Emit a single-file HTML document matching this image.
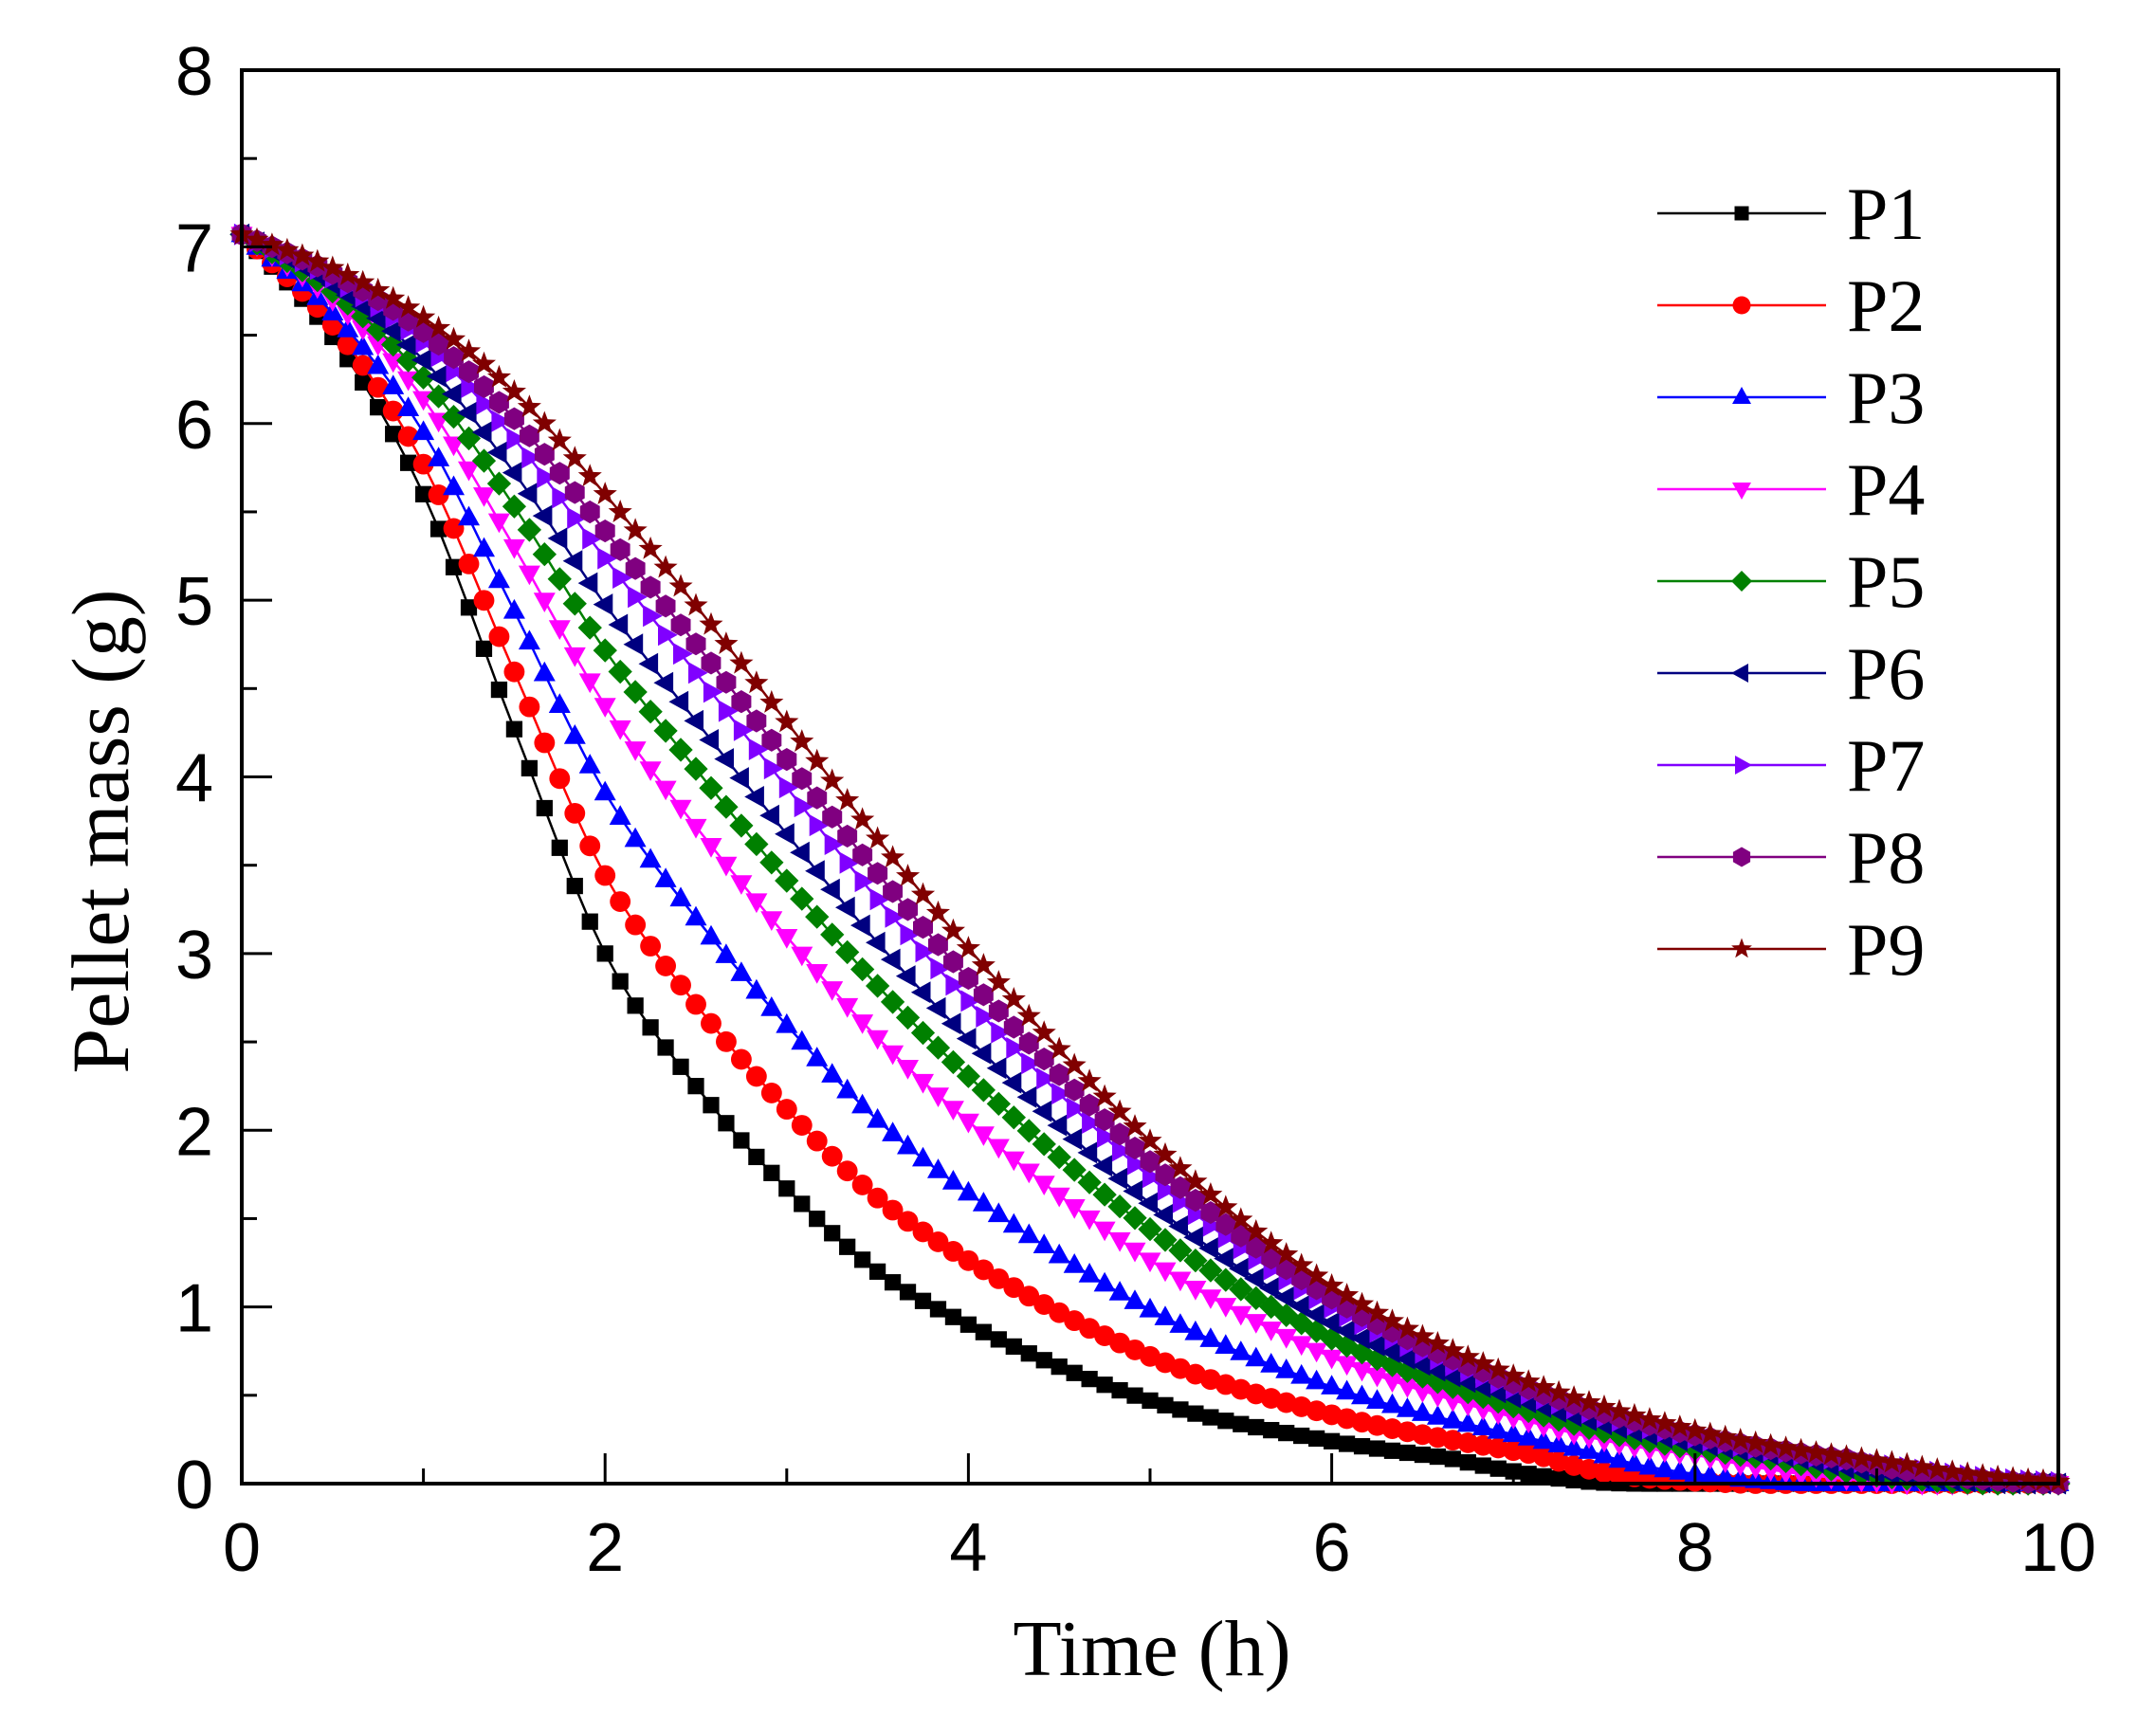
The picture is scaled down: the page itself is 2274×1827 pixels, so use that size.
<!DOCTYPE html>
<html><head><meta charset="utf-8"><style>
html,body{margin:0;padding:0;background:#fff;}
svg{display:block;}
</style></head><body>
<svg id="s" width="2274" height="1827" xmlns="http://www.w3.org/2000/svg">
<rect width="2274" height="1827" fill="#fff"/>
<g id="curves"></g>
<g id="axes" stroke="#000" stroke-width="4" fill="none"></g>
<g id="labels" font-family="Liberation Sans, sans-serif" font-size="72" fill="#000"></g>
<text x="1215" y="1767" font-family="Liberation Serif, serif" font-size="84" text-anchor="middle">Time (h)</text>
<text transform="translate(135,877) rotate(-90)" font-family="Liberation Serif, serif" font-size="86" text-anchor="middle">Pellet mass (g)</text>
<g id="legend"></g>
</svg>
<script>
const L=255,R=2171,T=74,B=1565;
const X=t=>L+(R-L)*t/10, Y=m=>B-(B-T)*m/8;
const NS="http://www.w3.org/2000/svg";
function el(p,tag,attrs,txt){const e=document.createElementNS(NS,tag);for(const k in attrs)e.setAttribute(k,attrs[k]);if(txt!=null)e.textContent=txt;p.appendChild(e);return e;}
const ax=document.getElementById('axes');
el(ax,'rect',{x:L,y:T,width:R-L,height:B-T});
for(let i=0;i<=10;i++){const x=X(i);el(ax,'line',{x1:x,y1:B,x2:x,y2:B-(i%2?16:32),'stroke-width':3});}
for(let i=0;i<=16;i++){const y=Y(i/2);el(ax,'line',{x1:L,y1:y,x2:L+(i%2?16:32),y2:y,'stroke-width':3});}
const lb=document.getElementById('labels');
for(let i=0;i<=10;i+=2)el(lb,'text',{x:X(i),y:1657,'text-anchor':'middle'},i);
for(let i=0;i<=8;i++)el(lb,'text',{x:225,y:Y(i)+26,'text-anchor':'end'},i);
const t1=[0,0.5,1,1.5,2,2.5,3,3.5,4,5,6,7,7.8,10],m1=[7.07,6.49,5.6,4.27,3.0,2.25,1.67,1.2,0.9,0.47,0.24,0.1,0,0];
const t9=[0,0.5,1,1.5,2,2.5,3,3.5,4,5,6,7,8,9,10],m9=[7.07,6.88,6.6,6.18,5.6,4.97,4.31,3.65,3.03,1.94,1.12,0.61,0.30,0.13,0.04];
function mono(xs,ys){const n=xs.length,d=[],m=[];for(let i=0;i<n-1;i++)d.push((ys[i+1]-ys[i])/(xs[i+1]-xs[i]));
 m[0]=d[0];m[n-1]=d[n-2];for(let i=1;i<n-1;i++){m[i]=(d[i-1]*d[i]<=0)?0:(d[i-1]+d[i])/2;}
 for(let i=0;i<n-1;i++){if(d[i]===0){m[i]=0;m[i+1]=0;continue;}const a=m[i]/d[i],b=m[i+1]/d[i],s=a*a+b*b;if(s>9){const t=3/Math.sqrt(s);m[i]=t*a*d[i];m[i+1]=t*b*d[i];}}
 return t=>{let i=0;while(i<n-2&&t>xs[i+1])i++;const h=xs[i+1]-xs[i],u=(t-xs[i])/h;const h00=2*u*u*u-3*u*u+1,h10=u*u*u-2*u*u+u,h01=-2*u*u*u+3*u*u,h11=u*u*u-u*u;return h00*ys[i]+h10*h*m[i]+h01*ys[i+1]+h11*h*m[i+1];};}
const f1=mono(t1,m1),f9=mono(t9,m9);
const series=[
{n:'P1',c:'#000000',m:'sq',w:0,e:7.8},
{n:'P2',c:'#ff0000',m:'ci',w:0.17,e:8.3},
{n:'P3',c:'#0000ff',m:'tu',w:0.35,e:8.6},
{n:'P4',c:'#ff00ff',m:'td',w:0.54,e:9.2},
{n:'P5',c:'#008000',m:'di',w:0.66,e:9.6},
{n:'P6',c:'#000080',m:'tl',w:0.76,e:9.7},
{n:'P7',c:'#8000ff',m:'tr',w:0.86,e:10.3},
{n:'P8',c:'#800080',m:'hx',w:0.92,e:10.0},
{n:'P9',c:'#800000',m:'st',w:1,e:10.3}];
function marker(p,type,x,y,c,k){
 k=k||1.15;
 let pts;
 switch(type){
 case 'sq':el(p,'rect',{x:x-7.5*k,y:y-7.5*k,width:15*k,height:15*k,fill:c});return;
 case 'ci':el(p,'circle',{cx:x,cy:y,r:9.5*k,fill:c});return;
 case 'tu':pts=[[0,-11],[10,7],[-10,7]];break;
 case 'td':pts=[[0,11],[10,-7],[-10,-7]];break;
 case 'tl':pts=[[-11,0],[7,-10],[7,10]];break;
 case 'tr':pts=[[11,0],[-7,-10],[-7,10]];break;
 case 'di':pts=[[0,-11],[11,0],[0,11],[-11,0]];break;
 case 'hx':pts=[];for(let j=0;j<6;j++){const a=Math.PI/6+j*Math.PI/3;pts.push([10.5*Math.cos(a),10.5*Math.sin(a)]);}break;
 case 'st':pts=[];for(let j=0;j<10;j++){const a=-Math.PI/2+j*Math.PI/5,r=j%2?4.8:11.5;pts.push([r*Math.cos(a),r*Math.sin(a)]);}break;
 }
 el(p,'polygon',{points:pts.map(q=>(x+q[0]*k).toFixed(1)+','+(y+q[1]*k).toFixed(1)).join(' '),fill:c});
}
const cg=document.getElementById('curves');
const N=120;
series.forEach(s=>{
 const g=el(cg,'g',{});
 const P=[];
 for(let i=0;i<=N;i++){const t=10*i/N;let m=(1-s.w)*f1(Math.min(t,7.8))+s.w*f9(t);
  if(t>=s.e)m=0; else if(t>s.e-1.5){const r=(s.e-t)/1.5;m=m*Math.min(1,r*1.3);}
  P.push([X(t),Y(Math.max(0,m))]);}
 el(g,'polyline',{points:P.map(q=>q.map(v=>v.toFixed(1)).join(',')).join(' '),fill:'none',stroke:s.c,'stroke-width':2.5});
 P.forEach(q=>marker(g,s.m,q[0],q[1],s.c));
});
const lg=document.getElementById('legend');
series.forEach((s,i)=>{
 const y=225+97*i;
 el(lg,'line',{x1:1748,y1:y,x2:1926,y2:y,stroke:s.c,'stroke-width':2.5});
 marker(lg,s.m,1837,y,s.c,1);
 el(lg,'text',{x:1948,y:y+27,'font-family':'Liberation Serif, serif','font-size':78},s.n);
});
</script>
</body></html>
